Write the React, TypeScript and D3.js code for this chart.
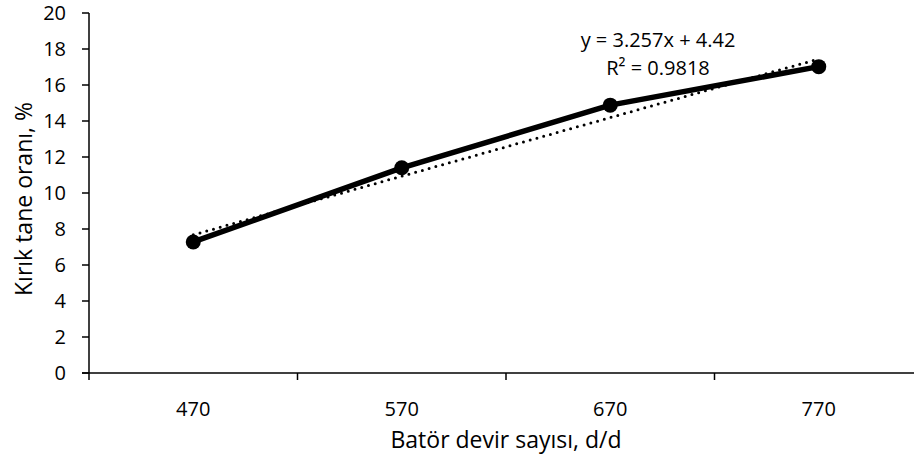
import React from "react";
import * as d3 from "d3";

const categories: string[] = ["470", "570", "670", "770"];
const values: number[] = [7.28, 11.4, 14.88, 17.02];
const yTicks: number[] = [0, 2, 4, 6, 8, 10, 12, 14, 16, 18, 20];
const trendSlope = 3.257;
const trendIntercept = 4.42;
const equationText = "y = 3.257x + 4.42";
const rSquaredText = "R² = 0.9818";
const xTitle = "Batör devir sayısı, d/d";
const yTitle = "Kırık tane oranı, %";

const W = 914;
const H = 461;
const FONT = "'Open Sans', sans-serif";

export default function App() {
  const x = d3.scaleBand<string>().domain(categories).range([89, 923]).padding(0);
  const y = d3.scaleLinear().domain([0, 20]).range([373, 13]);
  const cx = (c: string) => (x(c) ?? 0) + x.bandwidth() / 2;

  const line = d3
    .line<number>()
    .x((_, i) => cx(categories[i]))
    .y((d) => y(d));

  const trendPts = categories.map((c, i) => [cx(c), y(trendSlope * (i + 1) + trendIntercept)] as [number, number]);
  const trendPath = d3.line()(trendPts) ?? "";

  const boundaries = d3.range(categories.length + 1).map((i) => 89 + i * x.bandwidth());

  return (
    <svg
      width={W}
      height={H}
      style={{ position: "absolute", left: 0, top: 0, background: "#fff" }}
      fontFamily={FONT}
    >
      <rect width={W} height={H} fill="#fff" />
      {/* y axis */}
      <line x1={89} x2={89} y1={y(20)} y2={y(0)} stroke="#000" strokeWidth={1.5} />
      {yTicks.map((t) => (
        <g key={t}>
          <line x1={82} x2={89} y1={y(t)} y2={y(t)} stroke="#000" strokeWidth={1.5} />
          <text x={66} y={y(t)} dy="0.36em" textAnchor="end" fontSize={20} fill="#000">
            {t}
          </text>
        </g>
      ))}
      {/* x axis */}
      <line x1={82} x2={W} y1={y(0)} y2={y(0)} stroke="#000" strokeWidth={1.5} />
      {boundaries.map((b, i) => (
        <line key={i} x1={b} x2={b} y1={y(0)} y2={y(0) + 7} stroke="#000" strokeWidth={1.5} />
      ))}
      {categories.map((c) => (
        <text key={c} x={cx(c)} y={409} dy="0.36em" textAnchor="middle" fontSize={20} fill="#000">
          {c}
        </text>
      ))}
      <text x={506} y={440} dy="0.36em" textAnchor="middle" fontSize={23} fill="#000">
        {xTitle}
      </text>
      <text
        transform={`translate(24,${y(10) + 6}) rotate(-90)`}
        textAnchor="middle"
        dy="0.36em"
        fontSize={23}
        fill="#000"
      >
        {yTitle}
      </text>
      {/* trendline */}
      <path d={trendPath} fill="none" stroke="#000" strokeWidth={3} strokeLinecap="round" strokeDasharray="0 7" />
      {/* data line */}
      <path d={line(values) ?? ""} fill="none" stroke="#000" strokeWidth={5.5} strokeLinejoin="round" />
      {values.map((v, i) => (
        <circle key={i} cx={cx(categories[i])} cy={y(v)} r={7.5} fill="#000" />
      ))}
      {/* equation */}
      <text x={658} y={40} dy="0.36em" textAnchor="middle" fontSize={20} fill="#000">
        {equationText}
      </text>
      <text x={658} y={68} dy="0.36em" textAnchor="middle" fontSize={20} fill="#000">
        {rSquaredText}
      </text>
    </svg>
  );
}
